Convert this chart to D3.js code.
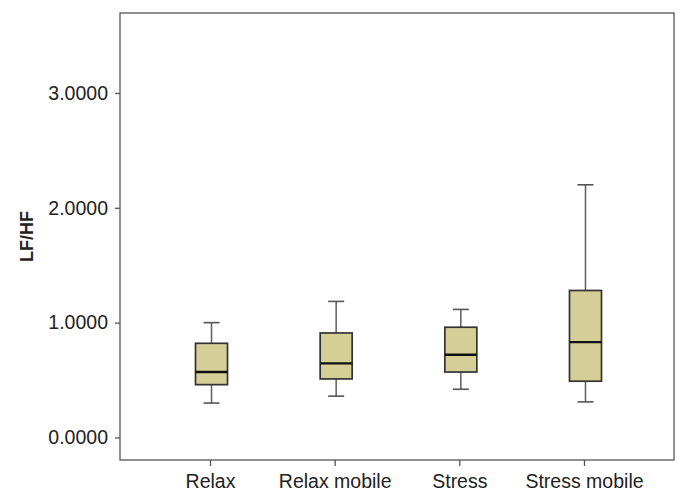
<!DOCTYPE html>
<html>
<head>
<meta charset="utf-8">
<script src="https://cdn.jsdelivr.net/npm/d3@7"></script>
<style>
  body { margin: 0; background: #fff; }
  text { font-family: "Liberation Sans", Arial, sans-serif; fill: #222; }
</style>
</head>
<body>
<div id="chart"></div>
<script>
// box plot summaries
var groups  = ["Relax", "Relax mobile", "Stress", "Stress mobile"];
var whiskLo = [0.30, 0.36, 0.42, 0.31];
var q1      = [0.46, 0.51, 0.57, 0.49];
var median  = [0.57, 0.645, 0.72, 0.83];
var q3      = [0.82, 0.91, 0.96, 1.28];
var whiskHi = [1.00, 1.185, 1.115, 2.20];
var yTicks  = [0, 1, 2, 3];

var W = 679, H = 492;
var margin = {top: 13, right: 5, bottom: 32, left: 120},
    width = W - margin.left - margin.right,
    height = H - margin.top - margin.bottom;

var data = groups.map(function(g, i) {
  return {name: g, lo: whiskLo[i], q1: q1[i], med: median[i], q3: q3[i], hi: whiskHi[i]};
});

var x = d3.scalePoint()
    .domain(groups)
    .range([0, width])
    .padding(0.722);

var y = d3.scaleLinear()
    .domain([-0.196, 3.696])
    .range([height, 0]);

var svg = d3.select("#chart").append("svg")
    .attr("width", W)
    .attr("height", H);

var g = svg.append("g")
    .attr("transform", "translate(" + margin.left + "," + margin.top + ")");

// y axis
var yAxis = g.append("g")
    .call(d3.axisLeft(y).tickValues(yTicks).tickFormat(d3.format(".4f")).tickSize(5).tickPadding(7));
yAxis.select(".domain").remove();
yAxis.selectAll("line").attr("stroke", "#555").attr("stroke-width", 1.3);
yAxis.selectAll("text").style("font-size", "19.5px").attr("fill", "#222");

// x axis
var xAxis = g.append("g")
    .attr("transform", "translate(0," + height + ")")
    .call(d3.axisBottom(x).tickSize(6).tickPadding(8));
xAxis.select(".domain").remove();
xAxis.selectAll("line").attr("stroke", "#555").attr("stroke-width", 1.3);
xAxis.selectAll("text").style("font-size", "19.5px").attr("fill", "#222");

// frame
g.append("rect")
    .attr("width", width)
    .attr("height", height)
    .attr("fill", "none")
    .attr("stroke", "#555")
    .attr("stroke-width", 1.3);

var boxW = 32, capW = 16;

var box = g.selectAll(".box")
  .data(data)
  .enter().append("g")
    .attr("class", "box")
    .attr("transform", function(d) { return "translate(" + (x(d.name) + 1.5) + ",0)"; });

// whiskers
box.append("line")
    .attr("y1", function(d) { return y(d.lo); })
    .attr("y2", function(d) { return y(d.q1); })
    .attr("stroke", "#666").attr("stroke-width", 1.6);
box.append("line")
    .attr("y1", function(d) { return y(d.q3); })
    .attr("y2", function(d) { return y(d.hi); })
    .attr("stroke", "#666").attr("stroke-width", 1.6);

// caps
box.append("line")
    .attr("x1", -capW / 2).attr("x2", capW / 2)
    .attr("y1", function(d) { return y(d.lo); })
    .attr("y2", function(d) { return y(d.lo); })
    .attr("stroke", "#555").attr("stroke-width", 1.6);
box.append("line")
    .attr("x1", -capW / 2).attr("x2", capW / 2)
    .attr("y1", function(d) { return y(d.hi); })
    .attr("y2", function(d) { return y(d.hi); })
    .attr("stroke", "#555").attr("stroke-width", 1.6);

// box
box.append("rect")
    .attr("x", -boxW / 2)
    .attr("width", boxW)
    .attr("y", function(d) { return y(d.q3); })
    .attr("height", function(d) { return y(d.q1) - y(d.q3); })
    .attr("fill", "#d4cf96")
    .attr("stroke", "#333")
    .attr("stroke-width", 1.7);

// median
box.append("line")
    .attr("x1", -boxW / 2).attr("x2", boxW / 2)
    .attr("y1", function(d) { return y(d.med); })
    .attr("y2", function(d) { return y(d.med); })
    .attr("stroke", "#111").attr("stroke-width", 2.4);

// y label
svg.append("text")
    .attr("transform", "translate(33," + (margin.top + height / 2) + ") rotate(-90)")
    .attr("text-anchor", "middle")
    .style("font-size", "18px")
    .style("font-weight", "bold")
    .text("LF/HF");
</script>
</body>
</html>
